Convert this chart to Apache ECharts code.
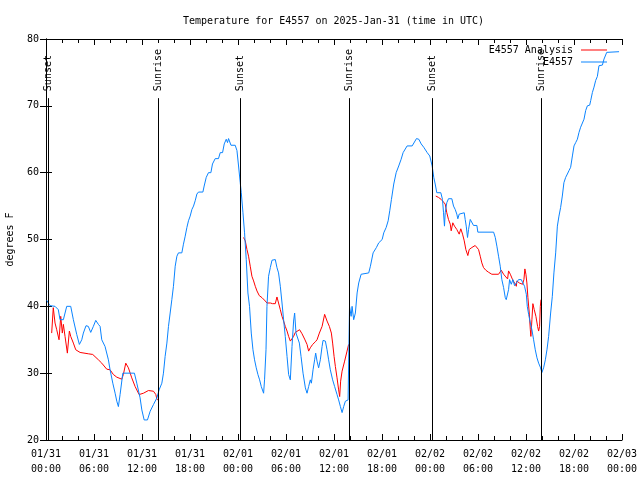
<!DOCTYPE html>
<html>
<head>
<meta charset="utf-8">
<script src="https://cdn.jsdelivr.net/npm/echarts@6/dist/echarts.min.js"></script>
<style>html,body{margin:0;padding:0;background:#fff}#c{width:640px;height:480px}</style>
</head>
<body>
<div id="c"></div>
<script>
// Hours since 2025-01-31 00:00 UTC
const tickLabels = ['01/31\n00:00','01/31\n06:00','01/31\n12:00','01/31\n18:00','02/01\n00:00','02/01\n06:00','02/01\n12:00','02/01\n18:00','02/02\n00:00','02/02\n06:00','02/02\n12:00','02/02\n18:00','02/03\n00:00'];
const yTicks = [20,30,40,50,60,70,80];

const eventHours = [0.33, 14.04, 24.33, 37.92, 48.29, 61.92];
const eventNames = ['Sunset','Sunrise','Sunset','Sunrise','Sunset','Sunrise'];

// E4557 observations [hour, degF]
const obsPoints = [[0.09,40.9],[0.29,40.5],[0.5,40.1],[1.13,40],[1.54,39.5],[1.75,38],[2.17,38],[2.59,40],[3.09,40],[3.42,38],[3.84,35.8],[4.17,34.3],[4.47,35],[4.67,36],[5.0,37.1],[5.29,37],[5.59,36.1],[5.92,37],[6.22,37.9],[6.55,37.3],[6.76,37],[6.97,35],[7.38,34],[7.80,32],[8.01,30.5],[8.35,28.5],[8.64,27],[8.85,25.8],[9.05,25],[9.26,26.8],[9.60,30],[11.05,30],[11.35,28.5],[11.76,26.3],[11.98,24.5],[12.27,23],[12.68,23],[13.02,24.3],[13.43,25.3],[13.86,26.3],[14.14,27.5],[14.48,28.5],[14.68,30],[14.89,32.5],[15.11,34.5],[15.31,37],[15.52,39],[15.73,41],[15.93,43],[16.15,46],[16.36,47.5],[16.56,48],[16.98,48],[17.18,49.3],[17.40,50.5],[17.61,51.8],[17.81,52.8],[18.02,53.5],[18.24,54.5],[18.44,55],[18.65,55.8],[18.86,56.8],[19.06,57.1],[19.61,57.1],[19.77,58],[20.03,59.3],[20.31,60],[20.61,60],[20.81,61.3],[21.15,62.1],[21.56,62.1],[21.78,63],[22.07,63],[22.28,64.3],[22.53,65],[22.69,64.5],[22.82,65.1],[23.12,64.1],[23.65,64.1],[23.87,63.3],[24.07,61],[24.28,58.5],[24.41,57],[24.62,54],[24.82,51],[25.03,47],[25.24,42],[25.44,40],[25.66,36],[25.87,33.5],[26.07,32],[26.28,30.8],[26.49,29.8],[26.70,29],[26.91,28],[27.20,27],[27.32,29],[27.50,33.5],[27.62,40],[27.82,44.5],[28.04,45.8],[28.25,46.9],[28.66,47],[28.87,45.8],[29.07,45],[29.29,43],[29.50,40.5],[29.70,38],[29.91,35.5],[30.13,32.5],[30.33,29.8],[30.54,29],[30.75,34],[30.95,37.8],[31.08,39],[31.25,36],[31.45,36],[31.67,34.5],[31.88,32.5],[32.13,30],[32.42,27.8],[32.63,27],[32.83,28],[33.04,29],[33.17,28.5],[33.38,30.5],[33.58,32],[33.71,33],[33.88,31.8],[34.08,30.8],[34.29,32],[34.51,34],[34.63,34.9],[34.92,34.8],[35.13,33.5],[35.33,32],[35.54,30.5],[35.83,29],[36.08,28],[36.38,26.8],[36.58,26],[36.80,25],[37.01,24.1],[37.21,25],[37.42,25.8],[37.76,26],[37.90,26],[37.94,40],[38.14,38.5],[38.26,40],[38.46,38],[38.67,39],[38.89,42],[39.09,43.5],[39.39,44.8],[39.64,45],[40.34,45],[40.55,46],[40.89,48],[41.30,48.8],[41.59,49.5],[42.02,50],[42.22,51],[42.52,51.8],[42.77,52.8],[42.97,54.3],[43.18,56],[43.47,58.3],[43.77,60],[44.09,61],[44.39,62],[44.64,63],[45.14,64],[45.77,64],[46.31,65.1],[46.60,65],[46.90,64.3],[47.22,63.8],[47.65,63],[47.97,62.5],[48.27,61],[48.47,59.3],[48.65,58.3],[48.85,57],[49.35,57],[49.56,56],[49.69,54],[49.81,52],[49.90,54],[50.10,55.5],[50.31,56.1],[50.73,56.1],[50.94,55],[51.15,54.5],[51.35,53.8],[51.48,53.1],[51.65,53.8],[51.85,54],[52.28,54],[52.40,53],[52.53,52],[52.69,50.3],[52.82,51.5],[53.03,53],[53.23,53],[53.44,52.1],[53.86,52.1],[53.98,51.1],[55.95,51.1],[56.16,50.3],[56.36,49],[56.57,47.5],[56.78,46],[56.98,44],[57.20,42.8],[57.41,41.3],[57.53,41],[57.73,41],[57.82,42.5],[57.95,44],[58.16,43.3],[58.36,44],[58.57,43.1],[58.79,43.5],[59.07,44],[59.41,44],[59.61,43.5],[59.82,43],[60.04,41.8],[60.16,40],[60.33,38.8],[60.54,37.5],[60.74,36.5],[60.95,35],[61.16,33.5],[61.37,32.3],[61.58,31.5],[61.79,30.9],[61.99,30.1],[62.20,30.8],[62.42,32],[62.62,33.5],[62.83,35.5],[63.08,39],[63.29,41.5],[63.49,45],[63.71,48],[63.92,52],[64.12,53.5],[64.33,54.8],[64.54,56.5],[64.74,58.5],[64.96,59.3],[65.17,59.8],[65.37,60.3],[65.58,60.8],[65.80,62.5],[66.00,64],[66.21,64.5],[66.42,65],[66.62,66],[66.83,66.8],[67.05,67],[67.25,68],[67.46,69.3],[67.67,70],[67.96,70.1],[68.09,70.8],[68.30,72],[68.50,72.8],[68.71,73.8],[68.92,74.4],[69.12,76],[69.55,76.1],[69.75,77],[70.09,78],[71.63,78.1]];

// E4557 Analysis [hour, degF]; null = gap
const anaPoints = [[0.71,36],[0.91,39.8],[1.13,37.5],[1.34,36.5],[1.63,35],[1.84,38.5],[2.04,36],[2.17,37.3],[2.38,35.5],[2.67,33],[2.92,36.3],[3.09,35.5],[3.42,34.5],[3.72,33.5],[4.26,33.1],[5.29,32.9],[5.84,32.8],[6.55,32],[6.97,31.5],[7.59,30.6],[8.01,30.5],[8.42,29.8],[8.85,29.4],[9.47,29.1],[9.67,29.8],[9.97,31.5],[10.30,30.8],[10.72,29.3],[11.14,28],[11.64,26.8],[12.18,27],[12.80,27.4],[13.43,27.3],[13.73,26.8],[13.86,26.1],[13.98,26],
[13.99,null],
[24.69,50.3],[24.91,49.8],[25.12,48.5],[25.32,47.5],[25.53,46],[25.74,44.5],[25.95,43.8],[26.16,43],[26.37,42.3],[26.66,41.6],[27.0,41.3],[27.41,40.8],[27.62,40.5],[28.04,40.5],[28.32,40.4],[28.66,40.4],[28.87,41.4],[29.07,40.5],[29.29,39.5],[29.50,38.5],[29.70,37.8],[29.91,37],[30.13,36.3],[30.33,35.5],[30.54,34.8],[30.75,34.6],[30.95,35.5],[31.16,36.1],[31.38,36.3],[31.70,36.5],[32.0,35.9],[32.33,35.1],[32.63,34.3],[32.83,33.3],[33.04,33.8],[33.33,34.3],[33.67,34.7],[33.88,35],[34.17,36],[34.51,37],[34.83,38.8],[35.13,37.8],[35.42,37],[35.67,36],[35.83,34.5],[36.01,32.5],[36.17,31],[36.38,29.3],[36.58,27.5],[36.71,26.5],[36.83,28.8],[37.01,30.3],[37.33,31.8],[37.63,33.3],[37.83,34.3],
[37.84,null],
[48.72,56.5],[49.06,56.3],[49.40,56],[49.69,55.6],[49.90,55.3],[50.10,54],[50.31,53],[50.53,52.3],[50.65,51.3],[50.85,52.5],[51.06,52],[51.35,51.5],[51.65,50.8],[51.85,51.6],[52.07,50.8],[52.28,49.8],[52.48,48.5],[52.73,47.6],[52.90,48.5],[53.23,48.8],[53.65,49.1],[53.86,49.3],[54.07,48.5],[54.28,47.5],[54.48,46.5],[54.69,45.8],[54.98,45.4],[55.32,45.1],[55.73,44.8],[56.57,44.8],[56.91,45.4],[57.20,44.8],[57.48,44.4],[57.70,44.1],[57.82,45.3],[58.04,44.8],[58.32,44],[58.57,43.5],[58.79,43],[58.86,43.8],[59.16,43.5],[59.57,43.3],[59.74,44],[59.86,45.6],[59.99,44.8],[60.11,43.5],[60.24,41.3],[60.41,39],[60.54,36.5],[60.61,35.5],[60.74,38],[60.86,40.4],[61.03,39.5],[61.24,38.5],[61.45,37],[61.58,36.3],[61.70,37],[61.79,40],[61.87,41]];

const FONT = 'DejaVu Sans Mono';
const LINE_TOP = 71.15;

const markData = [];
eventHours.forEach((h, i) => {
  markData.push([
    {coord: [h, 20], label: {show: false}, lineStyle: {color: '#000', width: 1, type: 'solid'}},
    {coord: [h, LINE_TOP]}
  ]);
  markData.push([
    {coord: [h, LINE_TOP], name: eventNames[i],
     lineStyle: {color: 'rgba(0,0,0,0)', width: 1},
     label: {show: true, position: 'insideStart', formatter: eventNames[i], distance: 7,
             color: '#000', fontFamily: FONT, fontSize: 10}},
    {coord: [h, 80]}
  ]);
});

const chart = echarts.init(document.getElementById('c'), null, {renderer: 'canvas'});
const baseAxisLine = {show: true, lineStyle: {color: '#000', width: 1}};
const legendText = {fontFamily: FONT, fontSize: 10, color: '#000', padding: [0, 3, 0, 0]};
chart.setOption({
  animation: false,
  backgroundColor: '#fff',
  title: {
    text: 'Temperature for E4557 on 2025-Jan-31 (time in UTC)',
    left: 183, top: 16, padding: 0,
    textStyle: {fontFamily: FONT, fontSize: 10, fontWeight: 'normal', color: '#000'}
  },
  legend: [
    {data: ['E4557 Analysis'], right: 33, top: 45, padding: 0, align: 'right', icon: 'rect',
     itemWidth: 26, itemHeight: 1, selectedMode: false, textStyle: legendText},
    {data: ['E4557'], right: 33, top: 57, padding: 0, align: 'right', icon: 'rect',
     itemWidth: 26, itemHeight: 1, selectedMode: false, textStyle: legendText}
  ],
  grid: {left: 46, right: 18, top: 39, bottom: 40, containLabel: false, outerBoundsMode: 'none'},
  xAxis: [
    {type: 'value', position: 'bottom', min: 0, max: 72, interval: 6,
     axisLine: baseAxisLine,
     axisTick: {show: true, inside: true, length: 6, lineStyle: {color: '#000'}},
     minorTick: {show: true, splitNumber: 3, length: 4, lineStyle: {color: '#000'}},
     splitLine: {show: false},
     axisLabel: {margin: 7, color: '#000', fontFamily: FONT, fontSize: 10, lineHeight: 15,
                 formatter: v => tickLabels[Math.round(v / 6)]}},
    {type: 'value', position: 'top', min: 0, max: 72, interval: 6,
     axisLine: baseAxisLine,
     axisTick: {show: true, inside: true, length: 6, lineStyle: {color: '#000'}},
     minorTick: {show: true, splitNumber: 3, length: 4, lineStyle: {color: '#000'}},
     splitLine: {show: false}, axisLabel: {show: false}}
  ],
  yAxis: [
    {type: 'value', position: 'left', min: yTicks[0], max: yTicks[yTicks.length - 1], interval: 10,
     name: 'degrees F', nameLocation: 'middle', nameGap: 31,
     nameTextStyle: {fontFamily: FONT, fontSize: 10, color: '#000'},
     axisLine: baseAxisLine,
     axisTick: {show: true, inside: true, length: 6, lineStyle: {color: '#000'}},
     splitLine: {show: false},
     axisLabel: {margin: 7, color: '#000', fontFamily: FONT, fontSize: 10}},
    {type: 'value', position: 'right', min: yTicks[0], max: yTicks[yTicks.length - 1], interval: 10,
     axisLine: baseAxisLine,
     axisTick: {show: true, inside: true, length: 6, lineStyle: {color: '#000'}},
     splitLine: {show: false}, axisLabel: {show: false}}
  ],
  series: [
    {name: 'E4557 Analysis', type: 'line', xAxisIndex: 0, yAxisIndex: 0,
     data: anaPoints, showSymbol: false, symbol: 'none', connectNulls: false,
     lineStyle: {color: '#ff0000', width: 1}, itemStyle: {color: '#ff0000'}, z: 3},
    {name: 'E4557', type: 'line', xAxisIndex: 0, yAxisIndex: 0,
     data: obsPoints, showSymbol: false, symbol: 'none',
     lineStyle: {color: '#0a84ff', width: 1}, itemStyle: {color: '#0a84ff'}, z: 4,
     markLine: {silent: true, symbol: ['none', 'none'], animation: false, data: markData}}
  ]
});
</script>
</body>
</html>
